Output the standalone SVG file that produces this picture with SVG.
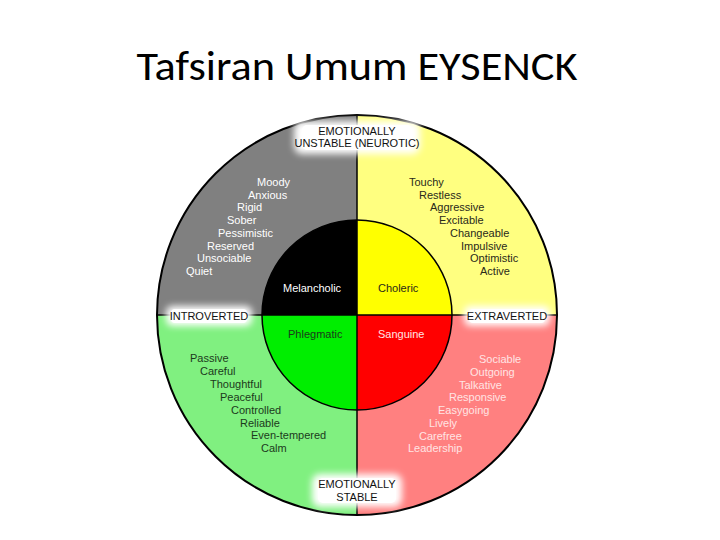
<svg xmlns="http://www.w3.org/2000/svg" width="720" height="540" viewBox="0 0 720 540">
<defs>
<style>
.t{font-family:"Liberation Sans",Arial,sans-serif;font-size:11px}
.w{fill:#ffffff}
.d{fill:#2a2a1a}
.g{fill:#1c3a1c}
.p{fill:#ffe4e4}
.lab{font-family:"Liberation Sans",Arial,sans-serif;font-size:11px;fill:#111111}
.q{stroke:none}
.glow{fill:#ffffff;filter:url(#glow)}
.solid{fill:#ffffff}
</style>
<filter id="glow" x="-30%" y="-80%" width="160%" height="260%">
<feGaussianBlur stdDeviation="3.5"/>
</filter>
</defs>
<rect width="720" height="540" fill="#ffffff"/>
<text x="357" y="80" text-anchor="middle" font-family="Carlito,'Liberation Sans',Arial,sans-serif" font-size="40" textLength="441" lengthAdjust="spacingAndGlyphs" fill="#000000">Tafsiran Umum EYSENCK</text>

<g id="melancholic-outer">
<path class="q" d="M357,315 L157,315 A200,200 0 0 1 357,115 Z" fill="#808080"/>
<g class="t w">
<text x="257" y="186">Moody</text>
<text x="248" y="199">Anxious</text>
<text x="237" y="211">Rigid</text>
<text x="227" y="224">Sober</text>
<text x="218" y="237">Pessimistic</text>
<text x="207" y="250">Reserved</text>
<text x="197" y="262">Unsociable</text>
<text x="186" y="275">Quiet</text>
</g>
</g>
<g id="choleric-outer">
<path class="q" d="M357,315 L357,115 A200,200 0 0 1 557,315 Z" fill="#ffff80"/>
<g class="t d">
<text x="409" y="186">Touchy</text>
<text x="419" y="199">Restless</text>
<text x="430" y="211">Aggressive</text>
<text x="439" y="224">Excitable</text>
<text x="450" y="237">Changeable</text>
<text x="461" y="250">Impulsive</text>
<text x="470" y="262">Optimistic</text>
<text x="480" y="275">Active</text>
</g>
</g>
<g id="sanguine-outer">
<path class="q" d="M357,315 L557,315 A200,200 0 0 1 357,515 Z" fill="#ff8080"/>
<g class="t p">
<text x="479" y="363">Sociable</text>
<text x="470" y="376">Outgoing</text>
<text x="459" y="389">Talkative</text>
<text x="449" y="401">Responsive</text>
<text x="438" y="414">Easygoing</text>
<text x="429" y="427">Lively</text>
<text x="419" y="440">Carefree</text>
<text x="408" y="452">Leadership</text>
</g>
</g>
<g id="phlegmatic-outer">
<path class="q" d="M357,315 L357,515 A200,200 0 0 1 157,315 Z" fill="#80f080"/>
<g class="t g">
<text x="190" y="362">Passive</text>
<text x="200" y="375">Careful</text>
<text x="210" y="388">Thoughtful</text>
<text x="220" y="401">Peaceful</text>
<text x="231" y="414">Controlled</text>
<text x="240" y="427">Reliable</text>
<text x="251" y="439">Even-tempered</text>
<text x="261" y="452">Calm</text>
</g>
</g>

<g id="melancholic">
<path d="M357,315 L262,315 A95,95 0 0 1 357,220 Z" fill="#000000"/>
<text class="t w" x="283" y="292">Melancholic</text>
</g>
<g id="choleric">
<path d="M357,315 L357,220 A95,95 0 0 1 452,315 Z" fill="#ffff00"/>
<text class="t d" x="378" y="292">Choleric</text>
</g>
<g id="sanguine">
<path d="M357,315 L452,315 A95,95 0 0 1 357,410 Z" fill="#ff0000"/>
<text class="t p" x="378" y="338">Sanguine</text>
</g>
<g id="phlegmatic">
<path d="M357,315 L357,410 A95,95 0 0 1 262,315 Z" fill="#00ee00"/>
<text class="t g" x="288" y="338">Phlegmatic</text>
</g>

<g id="connectors" fill="none" stroke="#000000">
<circle cx="357" cy="315" r="95" stroke-width="1.5"/>
<line x1="157" y1="315" x2="557" y2="315" stroke-width="1.5"/>
<line x1="357" y1="115" x2="357" y2="515" stroke-width="1.5"/>
<circle cx="357" cy="315" r="200" stroke-width="2"/>
</g>

<g id="label-unstable">
<rect class="glow" x="294" y="121" width="126" height="33" rx="8"/>
<rect class="solid" x="302" y="125" width="110" height="25" rx="5"/>
<text class="lab" x="357" y="135" text-anchor="middle">EMOTIONALLY</text>
<text class="lab" x="357" y="147" text-anchor="middle">UNSTABLE (NEUROTIC)</text>
</g>
<g id="label-introverted">
<rect class="glow" x="166" y="306" width="86" height="20" rx="6"/>
<rect class="solid" x="171" y="309" width="76" height="14" rx="4"/>
<text class="lab" x="209" y="320" text-anchor="middle">INTROVERTED</text>
</g>
<g id="label-extraverted">
<rect class="glow" x="464" y="306" width="86" height="20" rx="6"/>
<rect class="solid" x="469" y="309" width="76" height="14" rx="4"/>
<text class="lab" x="507" y="320" text-anchor="middle">EXTRAVERTED</text>
</g>
<g id="label-stable">
<rect class="glow" x="312" y="474" width="90" height="33" rx="8"/>
<rect class="solid" x="318" y="478" width="78" height="25" rx="5"/>
<text class="lab" x="357" y="488" text-anchor="middle">EMOTIONALLY</text>
<text class="lab" x="357" y="501" text-anchor="middle">STABLE</text>
</g>
</svg>
